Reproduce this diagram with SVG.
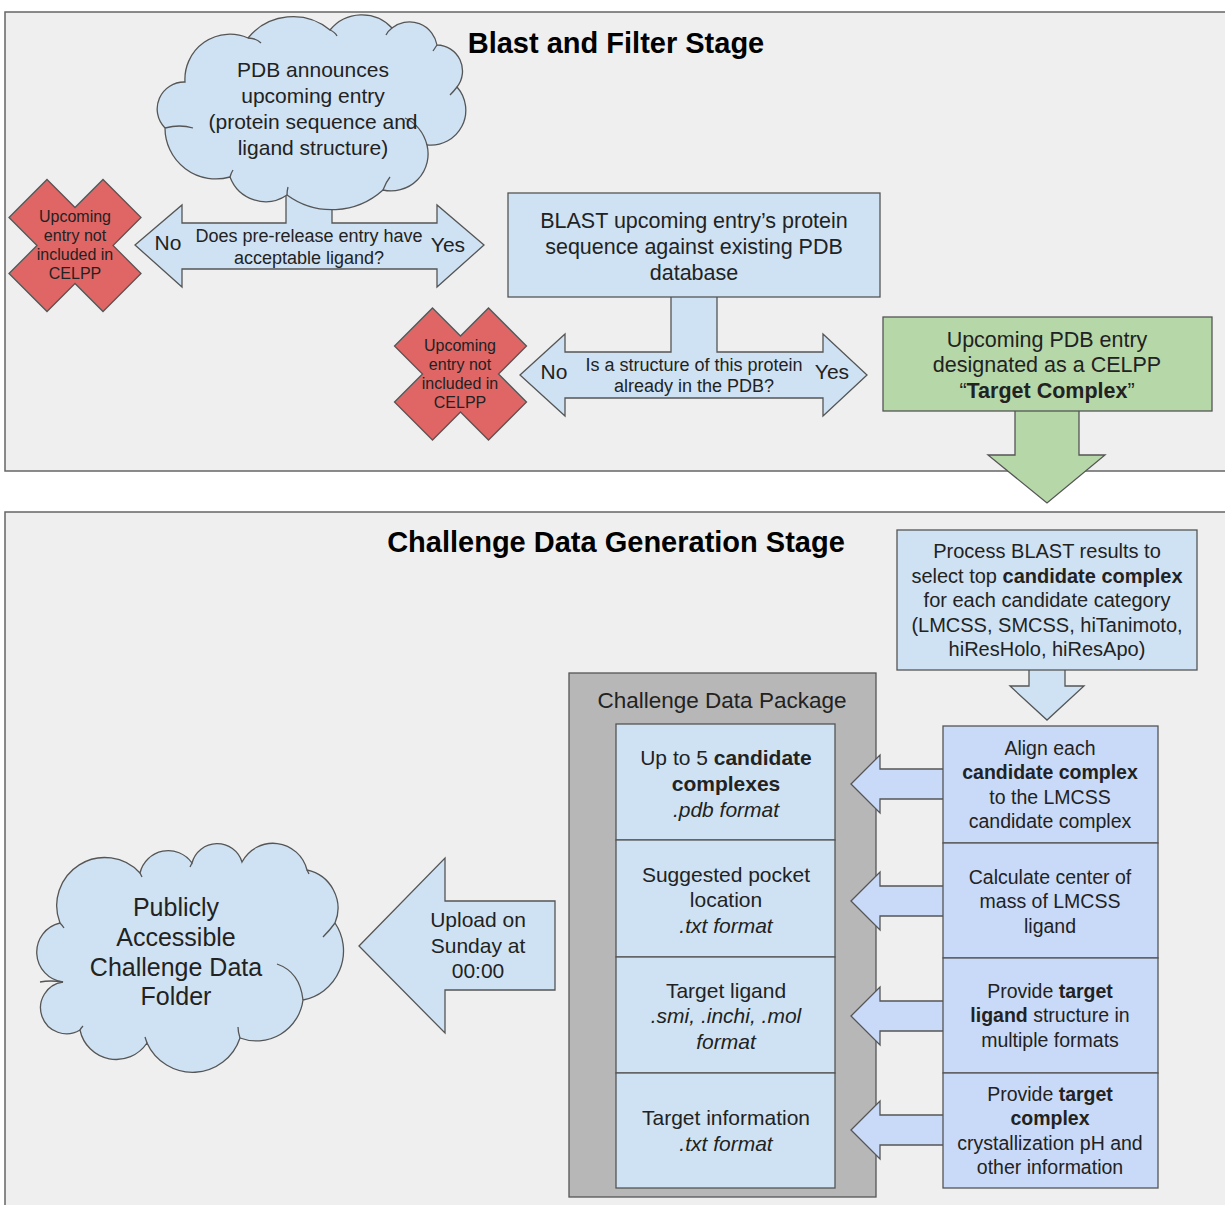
<svg xmlns="http://www.w3.org/2000/svg" width="1225" height="1205" viewBox="0 0 1225 1205">
<style>
text{font-family:"Liberation Sans",Arial,sans-serif;fill:#222;text-anchor:middle}
.panel{fill:#efefef;stroke:#666;stroke-width:1.5}
.blue{fill:#cfe2f3;stroke:#555;stroke-width:1.3}
.blue2{fill:#c9daf8;stroke:#555;stroke-width:1.3}
.red{fill:#e06666;stroke:#555;stroke-width:1.3}
.green{fill:#b6d7a8;stroke:#555;stroke-width:1.3}
.grey{fill:#b7b7b7;stroke:#555;stroke-width:1.3}
.inner{fill:none;stroke:#555;stroke-width:1.3}
.title{font-weight:bold;font-size:29px;fill:#000}
.b{font-weight:bold}
.i{font-style:italic}
</style>
<rect width="1225" height="1205" fill="#fff"/>
<g id="panel-blast">
<rect class="panel" x="5" y="12" width="1230" height="459"/>
<text class="title" x="616" y="53">Blast and Filter Stage</text>
</g>
<g id="panel-challenge">
<rect class="panel" x="5" y="512" width="1230" height="710"/>
<text class="title" x="616" y="552">Challenge Data Generation Stage</text>
</g>
<g id="package">
<rect class="grey" x="569" y="673" width="307" height="524"/>
<text x="722" y="708" font-size="22.5">Challenge Data Package</text>
<rect class="blue" x="616" y="724" width="219" height="116"/>
<text font-size="21" x="726" y="765">Up to 5 <tspan class="b">candidate</tspan></text>
<text font-size="21" x="726" y="791" class="b">complexes</text>
<text font-size="21" x="726" y="817" class="i">.pdb format</text>
<rect class="blue" x="616" y="840" width="219" height="117"/>
<text font-size="21" x="726" y="882">Suggested pocket</text>
<text font-size="21" x="726" y="907">location</text>
<text font-size="21" x="726" y="933" class="i">.txt format</text>
<rect class="blue" x="616" y="957" width="219" height="116"/>
<text font-size="21" x="726" y="998">Target ligand</text>
<text font-size="21" x="726" y="1023" class="i">.smi, .inchi, .mol</text>
<text font-size="21" x="726" y="1049" class="i">format</text>
<rect class="blue" x="616" y="1073" width="219" height="115"/>
<text font-size="21" x="726" y="1125">Target information</text>
<text font-size="21" x="726" y="1151" class="i">.txt format</text>
</g>
<g id="connectors">
<polygon class="blue" points="135,245 182,205 182,223 286,223 286,185 332,185 332,223 437,223 437,205 484,245 437,287 437,269 182,269 182,287"/>
<polygon class="blue" points="520,375 565,334 565,352 671,352 671,290 717,290 717,352 823,352 823,334 867,375 823,416 823,398 565,398 565,416"/>
<polygon class="green" points="1015,405 1079,405 1079,455 1105,455 1047,503 988,455 1015,455"/>
<polygon class="blue" points="1029,665 1065,665 1065,686 1084,686 1047,720 1010,686 1029,686"/>
<polygon class="blue2" points="851,784 880,755 880,769 950,769 950,799 880,799 880,813"/>
<polygon class="blue2" points="851,901 880,872 880,886 950,886 950,916 880,916 880,930"/>
<polygon class="blue2" points="851,1016 880,987 880,1001 950,1001 950,1031 880,1031 880,1045"/>
<polygon class="blue2" points="851,1130 880,1101 880,1115 950,1115 950,1145 880,1145 880,1159"/>
<polygon class="blue" points="359,946 445,858 445,901 555,901 555,990 445,990 445,1033"/>
</g>
<g id="arrow-labels">
<text font-size="21" x="168" y="250">No</text>
<text font-size="18" x="309" y="242">Does pre-release entry have</text>
<text font-size="18" x="309" y="264">acceptable ligand?</text>
<text font-size="21" x="448" y="252">Yes</text>
<text font-size="21" x="554" y="379">No</text>
<text font-size="18" x="694" y="371">Is a structure of this protein</text>
<text font-size="18" x="694" y="392">already in the PDB?</text>
<text font-size="21" x="832" y="379">Yes</text>
<text font-size="21" x="478" y="927">Upload on</text>
<text font-size="21" x="478" y="953">Sunday at</text>
<text font-size="21" x="478" y="978">00:00</text>
</g>
<g id="cloud-pdb">
<path class="blue" d="M185,82 A45,45 0 0 1 248,38 A58,58 0 0 1 330,30 A41,41 0 0 1 392,28 A28,28 0 0 1 437,45 A26,26 0 0 1 457,87 A35,35 0 0 1 427,145 A37,37 0 0 1 383,190 A76,76 0 0 1 287,195 A38,38 0 0 1 230,177 A51,51 0 0 1 165,128 A27,27 0 0 1 185,82 Z"/>
<path class="inner" d="M165,128 Q180,124 193,128 M248,38 Q256,38 261,43 M330,30 Q335,32 337,36 M392,28 Q388,31 386,35 M437,45 Q435,48 433,51 M457,87 Q454,91 450,95 M405,118 Q422,126 427,145 M383,190 Q386,182 390,177 M287,195 Q287,191 288,187 M230,177 Q231,173 233,170"/>
<text font-size="21" x="313" y="77">PDB announces</text>
<text font-size="21" x="313" y="103">upcoming entry</text>
<text font-size="21" x="313" y="129">(protein sequence and</text>
<text font-size="21" x="313" y="155">ligand structure)</text>
</g>
<g id="x-ligand">
<polygon class="red" points="47,179.5 75,207.5 103,179.5 141,217.5 113,245.5 141,273.5 103,311.5 75,283.5 47,311.5 9,273.5 37,245.5 9,217.5"/>
<text font-size="16" x="75" y="222">Upcoming</text>
<text font-size="16" x="75" y="241">entry not</text>
<text font-size="16" x="75" y="260">included in</text>
<text font-size="16" x="75" y="279">CELPP</text>
</g>
<g id="blast-box">
<rect class="blue" x="508" y="193" width="372" height="104"/>
<text font-size="21.5" x="694" y="228">BLAST upcoming entry’s protein</text>
<text font-size="21.5" x="694" y="254">sequence against existing PDB</text>
<text font-size="21.5" x="694" y="280">database</text>
</g>
<g id="x-structure">
<polygon class="red" points="432.5,308 460.5,336 488.5,308 526.5,346 498.5,374 526.5,402 488.5,440 460.5,412 432.5,440 394.5,402 422.5,374 394.5,346"/>
<text font-size="16" x="460" y="351">Upcoming</text>
<text font-size="16" x="460" y="370">entry not</text>
<text font-size="16" x="460" y="389">included in</text>
<text font-size="16" x="460" y="408">CELPP</text>
</g>
<g id="target-complex">
<rect class="green" x="883" y="317" width="329" height="94"/>
<text font-size="21.5" x="1047" y="347">Upcoming PDB entry</text>
<text font-size="21.5" x="1047" y="372">designated as a CELPP</text>
<text font-size="21.5" x="1047" y="398">“<tspan class="b">Target Complex</tspan>”</text>
</g>
<g id="process-blast">
<rect class="blue" x="897" y="530" width="300" height="140"/>
<text font-size="20" x="1047" y="558">Process BLAST results to</text>
<text font-size="20" x="1047" y="583">select top <tspan class="b">candidate complex</tspan></text>
<text font-size="20" x="1047" y="607">for each candidate category</text>
<text font-size="20" x="1047" y="632">(LMCSS, SMCSS, hiTanimoto,</text>
<text font-size="20" x="1047" y="656">hiResHolo, hiResApo)</text>
</g>
<g id="align">
<rect class="blue2" x="943" y="726" width="215" height="117"/>
<text font-size="19.5" x="1050" y="755">Align each</text>
<text font-size="19.5" x="1050" y="779" class="b">candidate complex</text>
<text font-size="19.5" x="1050" y="804">to the LMCSS</text>
<text font-size="19.5" x="1050" y="828">candidate complex</text>
</g>
<g id="center-mass">
<rect class="blue2" x="943" y="843" width="215" height="115"/>
<text font-size="19.5" x="1050" y="884">Calculate center of</text>
<text font-size="19.5" x="1050" y="908">mass of LMCSS</text>
<text font-size="19.5" x="1050" y="933">ligand</text>
</g>
<g id="target-ligand">
<rect class="blue2" x="943" y="958" width="215" height="115"/>
<text font-size="19.5" x="1050" y="998">Provide <tspan class="b">target</tspan></text>
<text font-size="19.5" x="1050" y="1022"><tspan class="b">ligand</tspan> structure in</text>
<text font-size="19.5" x="1050" y="1047">multiple formats</text>
</g>
<g id="target-info">
<rect class="blue2" x="943" y="1073" width="215" height="115"/>
<text font-size="19.5" x="1050" y="1101">Provide <tspan class="b">target</tspan></text>
<text font-size="19.5" x="1050" y="1125" class="b">complex</text>
<text font-size="19.5" x="1050" y="1150">crystallization pH and</text>
<text font-size="19.5" x="1050" y="1174">other information</text>
</g>
<g id="cloud-public">
<path class="blue" d="M60,923 A48,48 0 0 1 140,873 A29,29 0 0 1 192,863 A26,26 0 0 1 242,862 A35,35 0 0 1 307,870 A39,39 0 0 1 335,923 A50,50 0 0 1 303,1000 A47,47 0 0 1 240,1038 A50,50 0 0 1 147,1043 A37,37 0 0 1 80,1030 A26,26 0 1 1 63,982 A30,30 0 0 1 60,923 Z"/>
<path class="inner" d="M60,923 Q62,925 64,928 M140,873 Q141,875 142,877 M192,863 Q191,865 190,867 M307,870 Q308,872 309,874 M335,923 Q330,930 323,937 M277,964 Q300,972 303,1000 M240,1038 Q238,1032 238,1027 M147,1043 Q146,1040 145,1037 M80,1030 Q81,1028 83,1026 M63,982 Q50,980 40,982"/>
<text font-size="25" x="176" y="916">Publicly</text>
<text font-size="25" x="176" y="946">Accessible</text>
<text font-size="25" x="176" y="976">Challenge Data</text>
<text font-size="25" x="176" y="1005">Folder</text>
</g>
</svg>
